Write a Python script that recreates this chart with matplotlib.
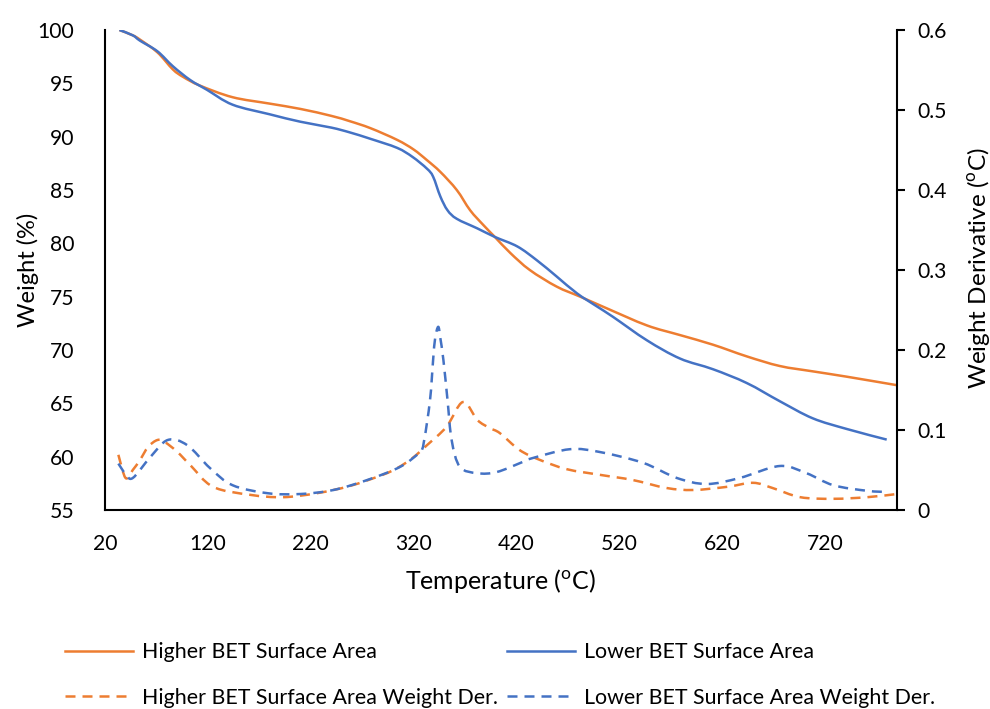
import matplotlib
matplotlib.use("Agg")
import matplotlib.pyplot as plt
from matplotlib.path import Path
from matplotlib.patches import PathPatch

plt.rcParams['font.family'] = ['Lato', 'DejaVu Sans']

# Weight loss curves (left axis, %)
temp_high = [34, 47, 54, 71, 86, 96, 112, 144, 180, 210, 240, 258, 278, 304, 320, 333,
             346, 362, 375, 388, 399, 414, 433, 459, 482, 508, 547, 579, 611, 644,
             676, 708, 741, 790]
weight_high = [100.0, 99.5, 99.1, 97.9, 96.3, 95.6, 94.8, 93.7, 93.1, 92.6, 91.95, 91.45,
               90.8, 89.7, 88.8, 87.8, 86.7, 85.0, 83.1, 81.7, 80.6, 79.1, 77.5, 75.95,
               75.0, 73.9, 72.3, 71.4, 70.5, 69.4, 68.5, 68.0, 67.5, 66.7]

temp_low = [34, 47, 54, 71, 86, 103, 119, 144, 180, 210, 240, 258, 278, 304, 319, 333,
            339, 346, 353, 362, 382, 399, 421, 440, 459, 479, 498, 514, 547, 579, 611,
            644, 676, 708, 741, 780]
weight_low = [100.0, 99.5, 99.0, 98.0, 96.6, 95.3, 94.4, 93.0, 92.1, 91.4, 90.85, 90.4,
              89.8, 88.95, 88.1, 87.0, 86.25, 84.4, 83.1, 82.3, 81.4, 80.6, 79.7, 78.4,
              76.9, 75.3, 74.1, 73.1, 70.9, 69.2, 68.2, 66.9, 65.2, 63.6, 62.6, 61.6]

# Derivative curves (right axis)
dtemp_high = [33, 40, 47, 54, 62, 71, 78, 90, 103, 125, 161, 193, 226, 258, 290, 305,
              319, 333, 352, 368, 382, 394, 404, 423, 443, 469, 501, 533, 566, 592, 625,
              650, 669, 696, 728, 761, 790]
deriv_high = [0.069, 0.040, 0.050, 0.0625, 0.079, 0.0875, 0.085, 0.073, 0.056, 0.029,
              0.019, 0.016, 0.021, 0.030, 0.044, 0.053, 0.065, 0.081, 0.104, 0.135,
              0.1125, 0.1025, 0.096, 0.075, 0.0625, 0.051, 0.044, 0.0375, 0.0275, 0.025,
              0.029, 0.034, 0.0275, 0.016, 0.014, 0.016, 0.020]

dtemp_low = [33, 40, 47, 64, 81, 100, 122, 144, 178, 210, 242, 275, 307, 326, 330, 336,
             339, 341, 344, 346, 349, 353, 357, 365, 382, 401, 426, 436, 472, 501, 543,
             576, 605, 637, 676, 702, 728, 761, 781]
deriv_low = [0.058, 0.045, 0.040, 0.066, 0.0875, 0.081, 0.0525, 0.031, 0.021, 0.020,
             0.025, 0.0375, 0.054, 0.0725, 0.085, 0.1375, 0.1875, 0.215, 0.229, 0.215,
             0.1875, 0.1375, 0.0875, 0.054, 0.046, 0.0475, 0.060, 0.065, 0.076, 0.0725,
             0.059, 0.040, 0.0325, 0.040, 0.055, 0.046, 0.031, 0.024, 0.0225]

x_ticks = [20, 120, 220, 320, 420, 520, 620, 720]

ORANGE = '#ED7D31'
BLUE = '#4472C4'
LW = 1.8
DASH = (4, 2.8)


def smooth_path(xs, ys):
    """Smoothed-line path: cubic Bezier segments through every point (Catmull-Rom)."""
    pts = list(zip(xs, ys))
    n = len(pts)
    verts = [pts[0]]
    codes = [Path.MOVETO]
    for i in range(n - 1):
        p0 = pts[i - 1] if i > 0 else pts[i]
        p1 = pts[i]
        p2 = pts[i + 1]
        p3 = pts[i + 2] if i + 2 < n else pts[i + 1]
        c1 = (p1[0] + (p2[0] - p0[0]) / 6, p1[1] + (p2[1] - p0[1]) / 6)
        c2 = (p2[0] - (p3[0] - p1[0]) / 6, p2[1] - (p3[1] - p1[1]) / 6)
        verts += [c1, c2, p2]
        codes += [Path.CURVE4] * 3
    return Path(verts, codes)


def draw_series(axis, xs, ys, color, label, dashed=False):
    style = (0, DASH) if dashed else '-'
    axis.add_patch(PathPatch(smooth_path(xs, ys), facecolor='none', edgecolor=color,
                             lw=LW, linestyle=style, capstyle='butt', joinstyle='round'))
    handle, = axis.plot([], [], color=color, lw=LW, label=label,
                        **({'dashes': DASH} if dashed else {}))
    return handle


fig = plt.figure(figsize=(9.9, 7.09), dpi=100)
ax = fig.add_axes([105 / 990, 1 - 510 / 709, 792 / 990, 480 / 709])
ax2 = ax.twinx()

l1 = draw_series(ax, temp_high, weight_high, ORANGE, 'Higher BET Surface Area')
l2 = draw_series(ax, temp_low, weight_low, BLUE, 'Lower BET Surface Area')
l3 = draw_series(ax2, dtemp_high, deriv_high, ORANGE,
                 'Higher BET Surface Area Weight Der.', dashed=True)
l4 = draw_series(ax2, dtemp_low, deriv_low, BLUE,
                 'Lower BET Surface Area Weight Der.', dashed=True)

ax.set_xlim(20, 790)
ax.set_ylim(55, 100)
ax2.set_ylim(0, 0.6)
ax.set_xticks(x_ticks)
ax.set_yticks(range(55, 101, 5))
ax2.set_yticks([0, 0.1, 0.2, 0.3, 0.4, 0.5, 0.6])
ax2.set_yticklabels(['0', '0.1', '0.2', '0.3', '0.4', '0.5', '0.6'])

for a in (ax, ax2):
    for s in a.spines.values():
        s.set_linewidth(1.5)
        s.set_color('black')
    a.spines['top'].set_visible(False)
ax.spines['right'].set_visible(False)
ax2.spines['left'].set_visible(False)
ax2.spines['bottom'].set_visible(False)

ax.tick_params(axis='x', length=0, pad=17, labelsize=15.2)
ax.tick_params(axis='y', length=0, pad=22, labelsize=15.2)
ax2.tick_params(axis='y', length=6, width=1.5, pad=9, labelsize=15.2, direction='out')

ax.set_xlabel(r'Temperature ($^{\mathregular{o}}$C)', fontsize=18)
ax.set_ylabel('Weight (%)', fontsize=17)
ax2.set_ylabel(r'Weight Derivative ($^{\mathregular{o}}$C)', fontsize=17.5, rotation=90)
ax.xaxis.set_label_coords((500 - 105) / 792, (510 - 581) / 480)
ax.yaxis.set_label_coords((28 - 105) / 792, (510 - 270) / 480)
ax2.yaxis.set_label_coords((978 - 105) / 792, (510 - 268) / 480)
ax.xaxis.label.set_va('center')
ax.yaxis.label.set_va('center')
ax2.yaxis.label.set_va('center')

fig.legend(handles=[l1, l3, l2, l4], loc='center', bbox_to_anchor=(500 / 990, 1 - 675 / 709),
           ncol=2, frameon=False, fontsize=15.4, handlelength=3.2, handletextpad=0.42,
           columnspacing=0.42, labelspacing=1.2)

fig.savefig('out.png', dpi=100)
